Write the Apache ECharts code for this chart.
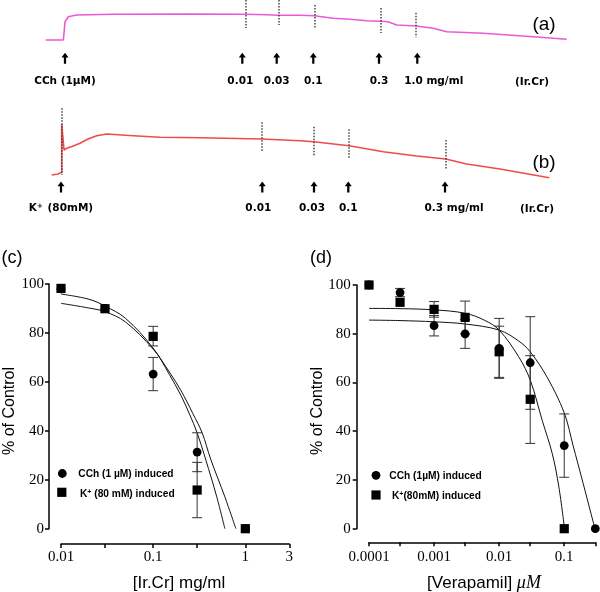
<!DOCTYPE html>
<html>
<head>
<meta charset="utf-8">
<script src="https://cdn.jsdelivr.net/npm/echarts@6/dist/echarts.min.js"></script>
<style>html,body{margin:0;padding:0;background:#fff}#c{width:600px;height:592px}</style>
</head>
<body>
<div id="c"></div>
<script>
// ---------- Panel (a): CCh-induced contraction trace (arbitrary time / tension units)
const traceA_time = [5.7,23.3,24,25,28.3,36.7,73.3,146.7,206,226.7,238.3,260,274,293.3,310,326.7,341,348,356.7,376,393.3,406.7,443.3,493.3,526.7];
const traceA_tension = [60,60,66.7,78.3,83.3,85,85.7,86,85.7,85.3,84.7,84.7,84.2,81.7,80.7,79.3,78.7,78.3,75,74,71.7,68.3,66.7,63.3,60.7];
const doseA_time = [25,202.3,236.7,273.3,339,377.3];
const doseA_labels = ['CCh (1µM)','0.01','0.03','0.1','0.3','1.0 mg/ml'];
const markA_time = [206,238.3,274.3,341,376];
const markA_top = [100,100,95,92,87.3];
const markA_bottom = [72,75,72,67,62.7];

// ---------- Panel (b): K+-induced contraction trace
const traceB_time = [11.7,18,21.7,21.7,22.5,24,26.7,32,40,48,56.7,66.7,93.3,120,160,221.7,260,274,309,343.3,376.7,405.7,426.7,460,509.3];
const traceB_tension = [45,46,47.7,96,96,70,71.7,73.5,76.7,81,84.3,86,84.3,82.7,82.3,81,79.3,78.3,74.3,68.3,64,61,56,51,42.3];
const doseB_time = [21,222.3,274,308.3,405];
const doseB_labels = ['K+ (80mM)','0.01','0.03','0.1','0.3 mg/ml'];
const markB_time = [21.7,221.7,274,309,405.3];
const markB_top = [111.7,97.7,93.3,90.7,80];
const markB_bottom = [45,69,64.3,62.3,51];

// ---------- Panel (c): Ir.Cr concentration-response
const c_conc = [0.01,0.03,0.1,0.3,1];
const c_cch = [98,90,63.2,31.3,0];
const c_k = [98.2,89.9,78.6,15.8,0];
const c_cch_err = [[0.1,56.4,70.0],[0.3,23.3,39.2]];
const c_k_err = [[0.1,74.7,82.7],[0.3,4.5,27.1]];
const c_fitA_x = [0.01,0.02,0.03,0.05,0.1,0.15,0.2,0.25,0.3,0.37,0.49,0.6];
const c_fitA_y = [95.9,93.8,91,86,73.8,63,54.5,46.5,39.2,28.5,13,0];
const c_fitB_x = [0.01,0.02,0.03,0.05,0.1,0.15,0.2,0.27,0.34,0.42,0.6,0.79];
const c_fitB_y = [92.1,90.2,88.7,84.5,73.4,64,56.5,47,39.2,28.5,13,0];
const c_tickValues = [0.01,0.03,0.1,0.3,1,3];
const c_labelValues = [0.01,0.1,1,3];
const c_labelText = ['0.01','0.1','1','3'];

// ---------- Panel (d): Verapamil concentration-response
const d_conc_cch = [0.0001,0.0003,0.001,0.003,0.01,0.03,0.1,0.3];
const d_cch = [100,96.9,83.3,79.9,74.0,68.1,34.1,0];
const d_conc_k = [0.0001,0.0003,0.001,0.003,0.01,0.03,0.1];
const d_k = [100,92.9,90.0,86.7,72.6,53.1,0];
const d_cch_err = [[0.0003,95.2,98.6],[0.001,79.1,87.5],[0.003,74.0,85.8],[0.01,61.7,86.3],[0.03,49.0,87.0],[0.1,21.1,47.1]];
const d_k_err = [[0.001,86.8,93.2],[0.003,80.0,93.4],[0.01,62.1,83.1],[0.03,35.0,71.0]];
const d_fitK_x = [0.0001,0.0003,0.001,0.003,0.006,0.01,0.02,0.03,0.0458,0.0653,0.0826,0.101];
const d_fitK_y = [90.4,90.3,89.8,88.4,85.5,81.5,70.5,61,44.5,30.9,17.2,0];
const d_fitC_x = [0.0001,0.0003,0.001,0.003,0.01,0.02,0.03,0.055,0.1,0.137,0.189,0.296];
const d_fitC_y = [85.6,85.4,84.9,84,81.5,77,72.6,62,47.5,34,20,0];
const d_tickValues = [0.0001,0.0003,0.001,0.003,0.01,0.03,0.1,0.3];
const d_labelValues = [0.0001,0.001,0.01,0.1];
const d_labelText = ['0.0001','0.001','0.01','0.1'];

const yTicks = [0,20,40,60,80,100];

// ---------- helpers
const L = v => Math.log10(v);
const zip = (a, b) => a.map((v, i) => [v, b[i]]);
const zipLog = (a, b) => a.map((v, i) => [L(v), b[i]]);
const SERIF = "'Liberation Serif','Times New Roman',serif";
const SANS = "'Liberation Sans',Arial,sans-serif";
const LBLFONT = "'DejaVu Sans',Verdana,sans-serif";

const arrowPath = 'path://M5,0 L10,7 L6.6,7 L6.6,16 L3.4,16 L3.4,7 L0,7 Z';

function markPairs(t, top, bot) {
  return t.map((x, i) => [{coord: [x, top[i]]}, {coord: [x, bot[i]]}]);
}
function errRender(params, api) {
  const x = api.value(0), lo = api.value(1), hi = api.value(2);
  const a = api.coord([x, lo]), b = api.coord([x, hi]);
  const hw = 5, st = {stroke: '#333', lineWidth: 1};
  return {type: 'group', children: [
    {type: 'line', shape: {x1: a[0], y1: a[1], x2: b[0], y2: b[1]}, style: st},
    {type: 'line', shape: {x1: a[0] - hw, y1: a[1], x2: a[0] + hw, y2: a[1]}, style: st},
    {type: 'line', shape: {x1: b[0] - hw, y1: b[1], x2: b[0] + hw, y2: b[1]}, style: st}
  ]};
}
const labelRich = {
  b: {fontFamily: LBLFONT, fontWeight: 'bold', fontSize: 10.5, color: '#000'},
  s: {fontFamily: LBLFONT, fontWeight: 'bold', fontSize: 7, color: '#000', verticalAlign: 'top', padding: [0, 1, 0, 0]}
};
function doseLabel(txt) {
  if (txt.startsWith('K+')) return '{b|K}{s|+}{b|' + txt.slice(2) + '}';
  return '{b|' + txt + '}';
}
function arrowSeries(gi, times, level, labels, nudges, dist) {
  return {
    type: 'scatter', xAxisIndex: gi, yAxisIndex: gi, symbol: arrowPath, symbolSize: [7, 11],
    itemStyle: {color: '#000', opacity: 1}, silent: true, clip: false,
    data: times.map((t, i) => ({
      value: [t, level],
      label: {show: true, position: 'bottom', distance: dist, offset: [nudges[i] || 0, 0],
        formatter: () => doseLabel(labels[i]), rich: labelRich}
    }))
  };
}
function curveAxisX(gi, tv, lv, lt, offset, margin) {
  return {
    gridIndex: gi, type: 'value', min: L(tv[0]), max: L(tv[tv.length - 1]), offset: offset,
    axisLine: {show: true, onZero: false, lineStyle: {color: '#000', width: 1.5}},
    axisTick: {show: true, customValues: tv.map(L), length: 4, lineStyle: {color: '#000', width: 1.5}},
    axisLabel: {customValues: lv.map(L), margin: margin, fontFamily: SERIF, fontSize: 15, color: '#000',
      formatter: v => { const i = lv.findIndex(x => Math.abs(L(x) - v) < 1e-6); return i >= 0 ? lt[i] : ''; }},
    splitLine: {show: false}
  };
}
function curveAxisY(gi, offset, margin) {
  return {
    gridIndex: gi, type: 'value', min: yTicks[0], max: yTicks[yTicks.length - 1], interval: 20, offset: offset,
    axisLine: {show: true, onZero: false, lineStyle: {color: '#000', width: 1.5}},
    axisTick: {show: true, length: 4, lineStyle: {color: '#000', width: 1.5}},
    axisLabel: {margin: margin, fontFamily: SERIF, fontSize: 15, color: '#000'},
    splitLine: {show: false}
  };
}
function fitSeries(gi, xs, ys) {
  return {type: 'line', xAxisIndex: gi, yAxisIndex: gi, data: zipLog(xs, ys), showSymbol: false,
    smooth: 0.35, clip: false, silent: true,
    lineStyle: {color: '#111', width: 1}, z: 3};
}
function errSeries(gi, arr) {
  return {type: 'custom', xAxisIndex: gi, yAxisIndex: gi, renderItem: errRender,
    data: arr.map(e => [L(e[0]), e[1], e[2]]), encode: {x: 0, y: [1, 2]}, clip: false, silent: true, z: 4};
}
function pointSeries(gi, xs, ys, sym, size) {
  return {type: 'scatter', xAxisIndex: gi, yAxisIndex: gi, data: zipLog(xs, ys), symbol: sym,
    symbolSize: size, itemStyle: {color: '#000', opacity: 1}, clip: false, silent: true, z: 5};
}
function txt(x, y, text, opt) {
  return Object.assign({type: 'text', x: x, y: y, silent: true,
    style: Object.assign({text: text, fill: '#000', align: 'center', verticalAlign: 'middle',
      fontFamily: SANS, fontSize: 17}, opt || {})});
}
function legendEntry(x, y, sym, tx, ty, richText) {
  const mark = sym === 'circle'
    ? {type: 'circle', shape: {cx: x, cy: y, r: 4.4}, style: {fill: '#000'}, silent: true}
    : {type: 'rect', shape: {x: x - 4.6, y: y - 4.6, width: 9.2, height: 9.2}, style: {fill: '#000'}, silent: true};
  const t = {type: 'text', x: tx, y: ty, silent: true, style: {text: richText, align: 'left', verticalAlign: 'middle',
    rich: {
      a: {fontFamily: SANS, fontWeight: 'bold', fontSize: 10.2, fill: '#000'},
      s: {fontFamily: SANS, fontWeight: 'bold', fontSize: 7, fill: '#000', verticalAlign: 'top'}
    }}};
  return [mark, t];
}

const chart = echarts.init(document.getElementById('c'), null, {renderer: 'canvas'});
const option = {
  animation: false,
  backgroundColor: '#fff',
  grid: [
    {left: 40, top: 0, width: 530, height: 100},
    {left: 40, top: 95, width: 530, height: 125},
    {left: 61, top: 284, width: 228.3, height: 244.7},
    {left: 369, top: 285, width: 226.3, height: 243.7}
  ],
  xAxis: [
    {gridIndex: 0, type: 'value', min: 0, max: 530, show: false},
    {gridIndex: 1, type: 'value', min: 0, max: 530, show: false},
    curveAxisX(2, c_tickValues, c_labelValues, c_labelText, 15.3, 6),
    curveAxisX(3, d_tickValues, d_labelValues, d_labelText, 13.6, 7)
  ],
  yAxis: [
    {gridIndex: 0, type: 'value', min: 0, max: 100, show: false},
    {gridIndex: 1, type: 'value', min: 0, max: 125, show: false},
    curveAxisY(2, 12, 5),
    curveAxisY(3, 12.3, 6)
  ],
  series: [
    {type: 'line', xAxisIndex: 0, yAxisIndex: 0, data: zip(traceA_time, traceA_tension), showSymbol: false,
     lineStyle: {color: '#ea5ad8', width: 1.6}, clip: false, silent: true,
     markLine: {symbol: 'none', silent: true, label: {show: false},
       lineStyle: {color: '#444', type: [1.5, 1.5], width: 1.5}, data: markPairs(markA_time, markA_top, markA_bottom)}},
    arrowSeries(0, doseA_time, 41.7, doseA_labels, {1: -2, 5: 16.4}, 11.5),
    {type: 'line', xAxisIndex: 1, yAxisIndex: 1, data: zip(traceB_time, traceB_tension), showSymbol: false,
     lineStyle: {color: '#ee4b4b', width: 1.6}, clip: false, silent: true,
     markLine: {symbol: 'none', silent: true, label: {show: false},
       lineStyle: {color: '#444', type: [1.5, 1.5], width: 1.5}, data: markPairs(markB_time, markB_top, markB_bottom)}},
    arrowSeries(1, doseB_time, 33, doseB_labels, {1: -4, 2: -2, 4: 9}, 10),

    fitSeries(2, c_fitA_x, c_fitA_y),
    fitSeries(2, c_fitB_x, c_fitB_y),
    errSeries(2, c_cch_err),
    errSeries(2, c_k_err),
    pointSeries(2, c_conc, c_cch, 'circle', 8.8),
    pointSeries(2, c_conc, c_k, 'rect', 9.2),

    fitSeries(3, d_fitK_x, d_fitK_y),
    fitSeries(3, d_fitC_x, d_fitC_y),
    errSeries(3, d_cch_err),
    errSeries(3, d_k_err),
    pointSeries(3, d_conc_cch, d_cch, 'circle', 8.8),
    pointSeries(3, d_conc_k, d_k, 'rect', 9.2)
  ],
  graphic: [].concat(
    [
      txt(544, 25, '(a)', {fontSize: 19}),
      txt(544, 163, '(b)', {fontSize: 19}),
      txt(532, 82, '(Ir.Cr)', {fontFamily: LBLFONT, fontWeight: 'bold', fontSize: 10.5}),
      txt(537, 209.5, '(Ir.Cr)', {fontFamily: LBLFONT, fontWeight: 'bold', fontSize: 10.5}),
      txt(12, 258, '(c)', {fontSize: 18}),
      txt(321, 258, '(d)', {fontSize: 18}),
      Object.assign(txt(10, 411, '% of Control', {fontSize: 16}), {rotation: Math.PI / 2}),
      Object.assign(txt(317.5, 411, '% of Control', {fontSize: 16}), {rotation: Math.PI / 2}),
      txt(179, 583, '[Ir.Cr] mg/ml', {fontSize: 17}),
      {type: 'text', x: 484, y: 583, silent: true, style: {text: '{a|[Verapamil] }{m|μM}', align: 'center', verticalAlign: 'middle',
        rich: {a: {fontFamily: SANS, fontSize: 17, fill: '#000'}, m: {fontFamily: SERIF, fontStyle: 'italic', fontSize: 18, fill: '#000'}}}}
    ],
    legendEntry(62.3, 473.5, 'circle', 78.3, 474, '{a|CCh (1 µM) induced}'),
    legendEntry(61.8, 492.3, 'rect', 80, 494, '{a|K}{s|+}{a| (80 mM) induced}'),
    legendEntry(376, 475.3, 'circle', 389.3, 475.7, '{a|CCh (1µM) induced}'),
    legendEntry(376, 495, 'rect', 392, 495.7, '{a|K}{s|+}{a|(80mM) induced}')
  )
};
chart.setOption(option);
</script>
</body>
</html>
